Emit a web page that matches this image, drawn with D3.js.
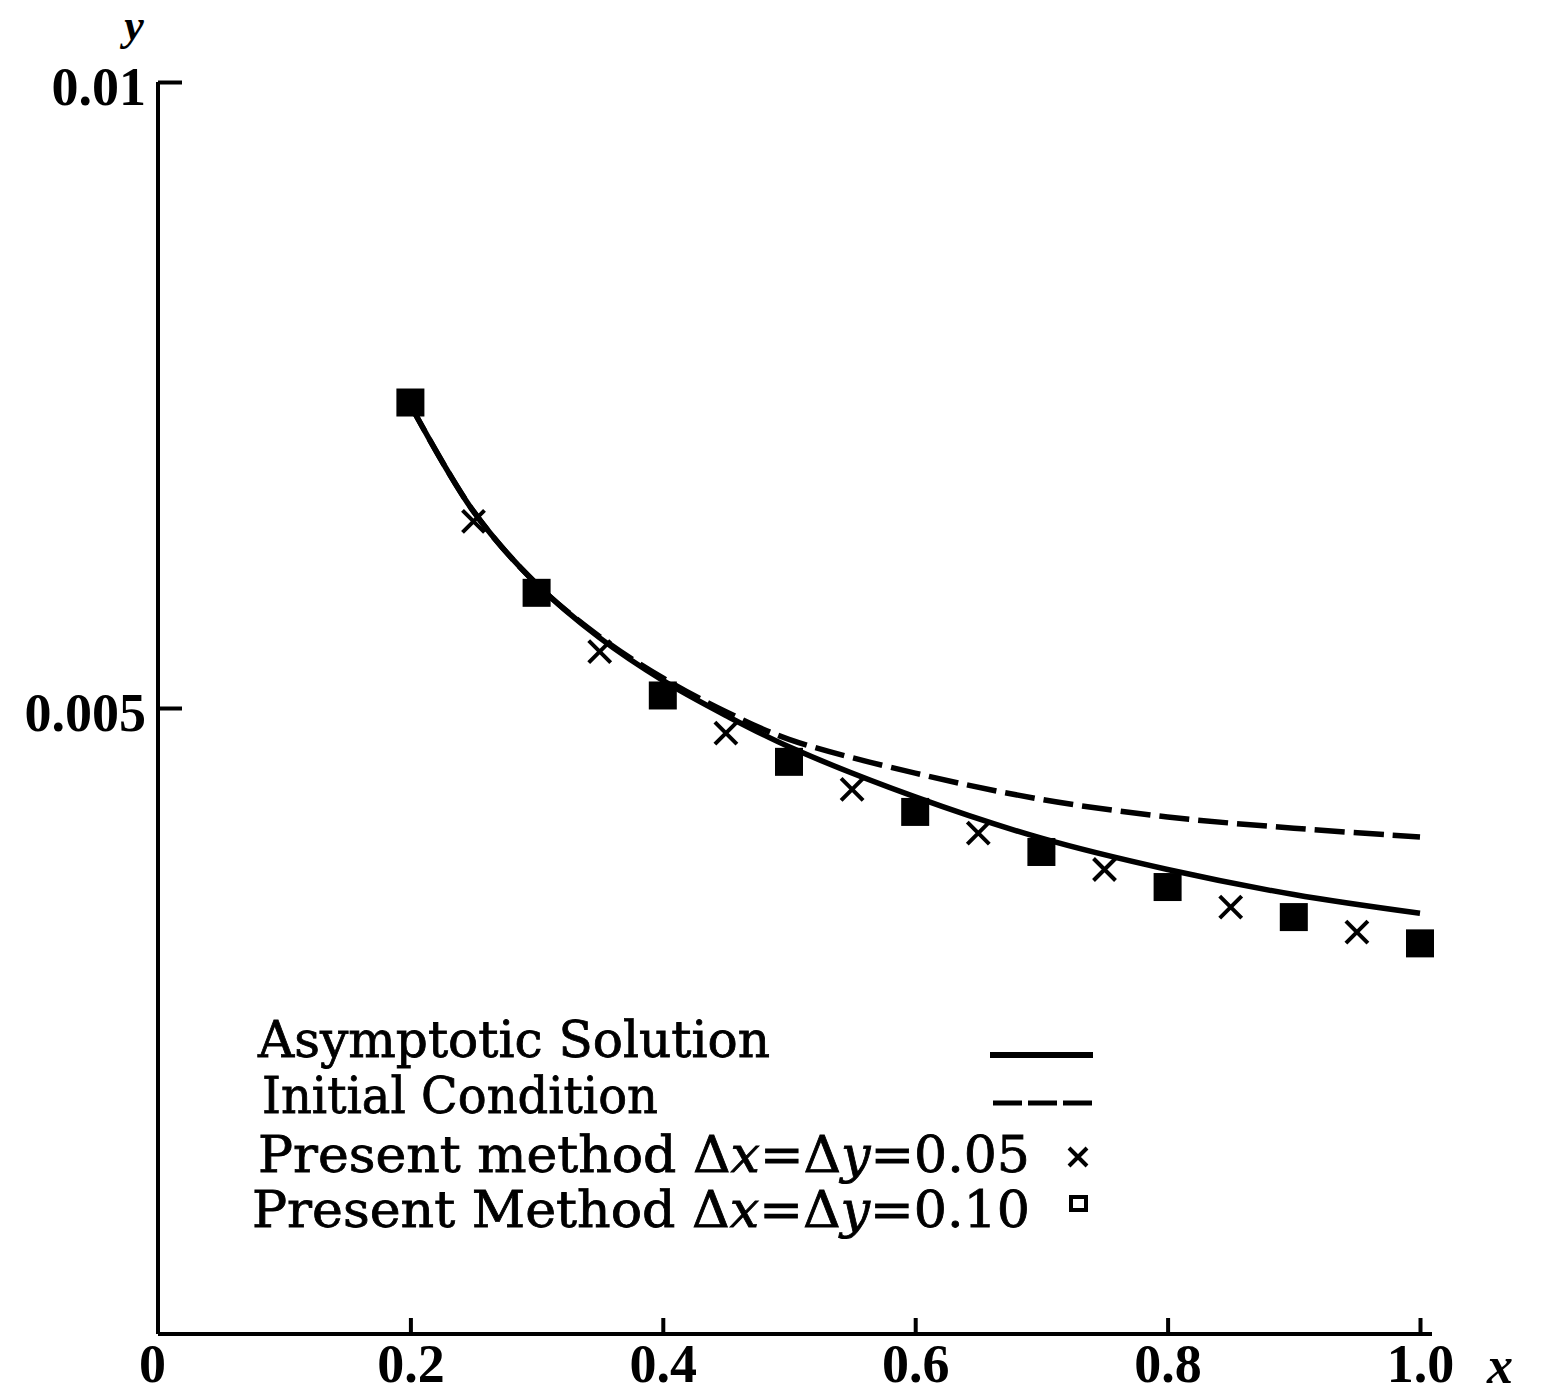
<!DOCTYPE html>
<meta charset="utf-8">
<style>
body { margin: 0; background: #fff; }
.curve { fill: none; stroke: #000; stroke-width: 5.5px; }
.axis path, .axis line { stroke: #000; stroke-width: 4px; }
.axis text { font-family: "Liberation Serif", serif; font-weight: bold; font-size: 54px; fill: #000; }
.legend text { font-family: "DejaVu Serif", serif; font-size: 50px; fill: #000; stroke: #000; stroke-width: 0.8px; }
</style>
<body>
<script src="https://d3js.org/d3.v7.min.js"></script>
<script>

// values (y in units of 0.001)
var curveX    = [0.2, 0.25, 0.3, 0.35, 0.4, 0.45, 0.5, 0.6, 0.7, 0.8, 0.9, 1.0];
var asymptY   = [7.42, 6.57, 5.99, 5.56, 5.22, 4.94, 4.69, 4.29, 3.96, 3.71, 3.51, 3.36];
var initialY  = [7.42, 6.57, 5.99, 5.57, 5.24, 4.97, 4.75, 4.48, 4.27, 4.13, 4.04, 3.97];

var crossX = [0.25, 0.35, 0.45, 0.55, 0.65, 0.75, 0.85, 0.95];
var crossY = [6.49, 5.45, 4.80, 4.35, 4.00, 3.71, 3.41, 3.21];

var squareX = [0.2, 0.3, 0.4, 0.5, 0.6, 0.7, 0.8, 0.9, 1.0];
var squareY = [7.44, 5.92, 5.10, 4.57, 4.17, 3.85, 3.57, 3.33, 3.12];

var xTicks = [0, 0.2, 0.4, 0.6, 0.8, 1.0];
var xTickLabels = ["0", "0.2", "0.4", "0.6", "0.8", "1.0"];
var yTicks = [0.005, 0.01];
var yTickLabels = ["0.005", "0.01"];

var legendLabels = ["Asymptotic Solution", "Initial Condition",
                    "Present method ", "Present Method "];
var legendSteps = ["0.05", "0.10"];

var width = 1548, height = 1398;

var svg = d3.select("body").append("svg")
    .attr("width", width)
    .attr("height", height);

svg.append("rect").attr("width", width).attr("height", height).attr("fill", "#fff");

var x = d3.scaleLinear().domain([0, 1]).range([158, 1420]);
var y = d3.scaleLinear().domain([0, 0.01]).range([1334, 82]);

// axes
var xAxis = svg.append("g")
    .attr("class", "axis")
    .attr("transform", "translate(0," + y(0) + ")")
    .call(d3.axisBottom(x)
        .tickValues(xTicks)
        .tickFormat(function(d, i) { return xTickLabels[i]; })
        .tickSizeInner(-16)
        .tickSizeOuter(0)
        .tickPadding(10));
xAxis.select(".domain").attr("d", "M" + x(0) + ",0H" + (x(1) + 12));
xAxis.selectAll(".tick").filter(function(d) { return d === 0; })
    .select("line").remove();
xAxis.selectAll(".tick").filter(function(d) { return d === 0; })
    .select("text").attr("dx", -6);

var yAxis = svg.append("g")
    .attr("class", "axis")
    .attr("transform", "translate(" + x(0) + ",0)")
    .call(d3.axisLeft(y)
        .tickValues(yTicks)
        .tickFormat(function(d, i) { return yTickLabels[i]; })
        .tickSizeInner(-24)
        .tickSizeOuter(0)
        .tickPadding(12));
yAxis.select(".domain").attr("d", "M0," + y(0) + "V" + y(0.01));
yAxis.selectAll(".tick text").attr("dy", "0.42em");

// axis titles
svg.append("text")
    .attr("x", 134).attr("y", 40)
    .attr("text-anchor", "middle")
    .style("font-family", "Liberation Serif, serif")
    .style("font-weight", "bold").style("font-style", "italic")
    .style("font-size", "44px")
    .text("y");
svg.append("text")
    .attr("x", 1500).attr("y", 1383)
    .attr("text-anchor", "middle")
    .style("font-family", "Liberation Serif, serif")
    .style("font-weight", "bold").style("font-style", "italic")
    .style("font-size", "52px")
    .text("x");

// curves
var line = d3.line().curve(d3.curveCatmullRom);

svg.append("path")
    .attr("class", "curve")
    .style("stroke-dasharray", "30,9")
    .attr("d", line(curveX.map(function(d, i) { return [x(d), y(initialY[i] / 1000)]; })));

svg.append("path")
    .attr("class", "curve")
    .attr("d", line(curveX.map(function(d, i) { return [x(d), y(asymptY[i] / 1000)]; })));

// markers
var sq = 28;
svg.append("g").selectAll("rect")
    .data(squareX)
    .join("rect")
    .attr("x", function(d) { return x(d) - sq / 2; })
    .attr("y", function(d, i) { return y(squareY[i] / 1000) - sq / 2; })
    .attr("width", sq).attr("height", sq)
    .attr("fill", "#000");

var cr = 11;
svg.append("g").selectAll("path")
    .data(crossX)
    .join("path")
    .attr("d", function(d, i) {
        var cx = x(d), cy = y(crossY[i] / 1000);
        return "M" + (cx - cr) + "," + (cy - cr) + "L" + (cx + cr) + "," + (cy + cr) +
               "M" + (cx - cr) + "," + (cy + cr) + "L" + (cx + cr) + "," + (cy - cr);
    })
    .attr("stroke", "#000").attr("stroke-width", 4).attr("fill", "none");

// legend
var legend = svg.append("g").attr("class", "legend");
var rowY = [1057, 1113, 1172, 1227];
var rowX = [258, 262, 258, 252];
var rowW = [512, 396, 772, 778];

legendLabels.forEach(function(lab, i) {
    var t = legend.append("text")
        .attr("x", rowX[i]).attr("y", rowY[i])
        .attr("textLength", rowW[i])
        .attr("lengthAdjust", "spacingAndGlyphs");
    t.append("tspan").text(lab);
    if (i >= 2) {
        t.append("tspan").text("\u0394");
        t.append("tspan").style("font-style", "italic").text("x");
        t.append("tspan").text("=\u0394");
        t.append("tspan").style("font-style", "italic").text("y");
        t.append("tspan").text("=" + legendSteps[i - 2]);
    }
});

legend.append("line")
    .attr("x1", 990).attr("x2", 1093).attr("y1", 1055).attr("y2", 1055)
    .attr("stroke", "#000").attr("stroke-width", 6);
legend.append("line")
    .attr("x1", 993).attr("x2", 1092).attr("y1", 1103).attr("y2", 1103)
    .attr("stroke", "#000").attr("stroke-width", 5)
    .style("stroke-dasharray", "29,6");
legend.append("path")
    .attr("d", "M1069,1148L1087,1166M1069,1166L1087,1148")
    .attr("stroke", "#000").attr("stroke-width", 4).attr("fill", "none");
legend.append("rect")
    .attr("x", 1071).attr("y", 1197).attr("width", 15).attr("height", 13)
    .attr("stroke", "#000").attr("stroke-width", 4).attr("fill", "none");

</script>
</body>
